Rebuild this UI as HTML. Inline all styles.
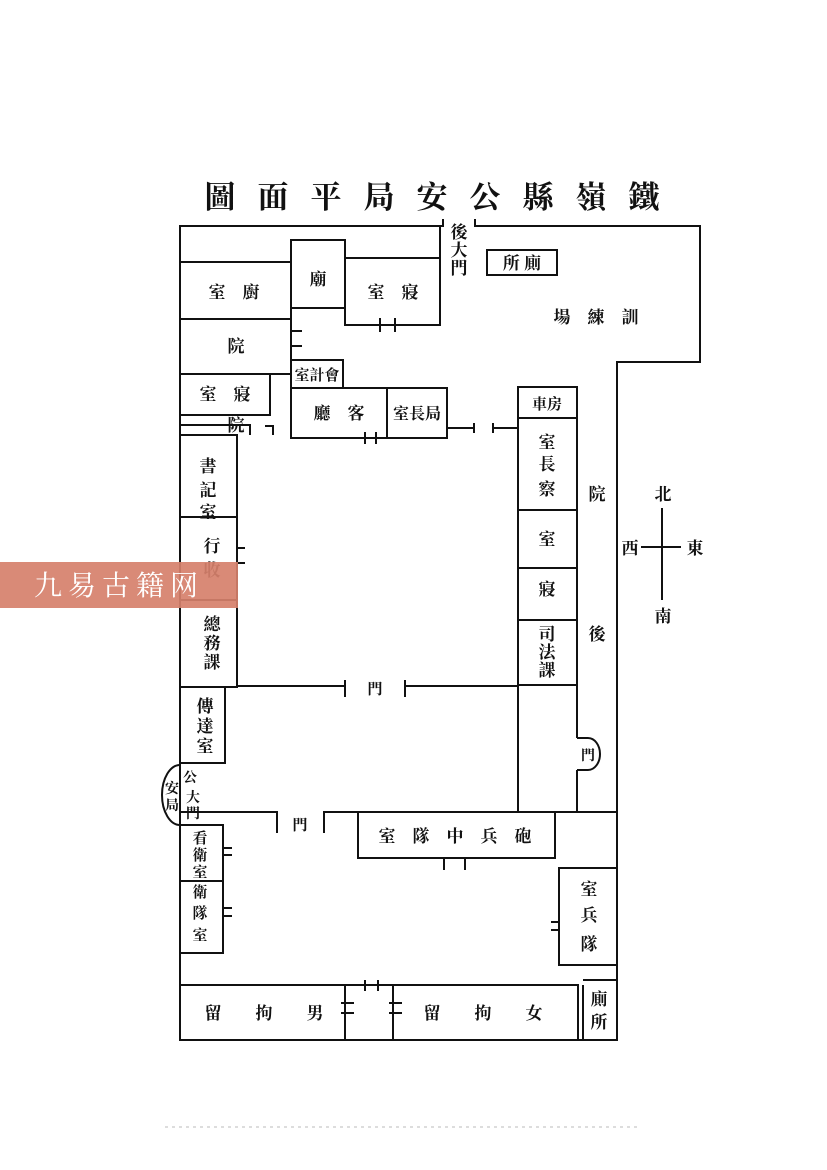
<!DOCTYPE html>
<html><head><meta charset="utf-8"><style>
html,body{margin:0;padding:0;background:#fff;}
svg{display:block;}
text{font-family:"Liberation Serif","Noto Serif CJK SC","Noto Sans CJK SC",serif;font-weight:bold;fill:#111;}
</style></head><body>
<svg width="827" height="1170" viewBox="0 0 827 1170" xmlns="http://www.w3.org/2000/svg">
<g stroke="#111" stroke-width="2" fill="none">
<!-- outer -->
<polyline points="443,219 443,226 180,226 180,1040 617,1040 617,362 700,362 700,226 475,226 475,219"/>
<!-- top-left rooms -->
<rect x="180" y="262" width="111" height="57"/>
<rect x="291" y="240" width="54" height="68"/>
<polyline points="345,258 440,258"/>
<polyline points="345,240 345,325 440,325 440,226"/>
<line x1="380" y1="318" x2="380" y2="332"/><line x1="395" y1="318" x2="395" y2="332"/>
<rect x="180" y="319" width="111" height="55"/>
<line x1="291" y1="308" x2="291" y2="388"/>
<line x1="291" y1="331" x2="302" y2="331"/><line x1="291" y1="346" x2="302" y2="346"/>
<rect x="291" y="360" width="52" height="28"/>
<rect x="180" y="374" width="90" height="41"/>
<polyline points="180,415 180,425 250,425 250,435"/>
<polyline points="265,426 273,426 273,435"/>
<rect x="291" y="388" width="96" height="50"/>
<rect x="387" y="388" width="60" height="50"/>
<line x1="365" y1="432" x2="365" y2="444"/><line x1="376" y1="432" x2="376" y2="444"/>
<polyline points="447,428 474,428"/><line x1="474" y1="423" x2="474" y2="433"/>
<polyline points="518,428 493,428"/><line x1="493" y1="423" x2="493" y2="433"/>
<rect x="487" y="250" width="70" height="25"/>
<!-- left column -->
<rect x="180" y="435" width="57" height="82"/>
<rect x="180" y="517" width="57" height="83"/>
<rect x="180" y="600" width="57" height="87"/>
<line x1="237" y1="548" x2="245" y2="548"/><line x1="237" y1="563" x2="245" y2="563"/>
<rect x="180" y="687" width="45" height="76"/>
<!-- middle horizontal -->
<polyline points="237,686 345,686"/><line x1="345" y1="680" x2="345" y2="697"/>
<polyline points="405,686 518,686"/><line x1="405" y1="680" x2="405" y2="697"/>
<!-- right column -->
<rect x="518" y="387" width="59" height="31"/>
<rect x="518" y="418" width="59" height="92"/>
<rect x="518" y="510" width="59" height="58"/>
<rect x="518" y="568" width="59" height="52"/>
<rect x="518" y="620" width="59" height="65"/>
<line x1="518" y1="685" x2="518" y2="812"/>
<line x1="577" y1="685" x2="577" y2="738"/>
<line x1="577" y1="770" x2="577" y2="812"/>
<path d="M577,738 L588,738 A12,16 0 0 1 588,770 L577,770"/>
<!-- gate -->
<path d="M180,765 A18,30 0 0 0 180,825"/>
<!-- lower -->
<polyline points="180,812 277,812 277,833"/>
<polyline points="324,833 324,812 617,812"/>
<rect x="358" y="812" width="197" height="46"/>
<line x1="444" y1="858" x2="444" y2="870"/><line x1="465" y1="858" x2="465" y2="870"/>
<rect x="180" y="825" width="43" height="56"/>
<rect x="180" y="881" width="43" height="72"/>
<line x1="223" y1="848" x2="232" y2="848"/><line x1="223" y1="855" x2="232" y2="855"/>
<line x1="223" y1="908" x2="232" y2="908"/><line x1="223" y1="916" x2="232" y2="916"/>
<rect x="559" y="868" width="58" height="97"/>
<line x1="551" y1="922" x2="559" y2="922"/><line x1="551" y1="930" x2="559" y2="930"/>
<rect x="180" y="985" width="398" height="55"/>
<line x1="345" y1="985" x2="345" y2="1040"/><line x1="393" y1="985" x2="393" y2="1040"/>
<line x1="365" y1="980" x2="365" y2="991"/><line x1="378" y1="980" x2="378" y2="991"/>
<line x1="341" y1="1003" x2="354" y2="1003"/><line x1="341" y1="1013" x2="354" y2="1013"/>
<line x1="389" y1="1003" x2="402" y2="1003"/><line x1="389" y1="1013" x2="402" y2="1013"/>
<line x1="583" y1="980" x2="617" y2="980"/><line x1="583" y1="985" x2="583" y2="1040"/>
<!-- compass -->
<line x1="662" y1="508" x2="662" y2="600"/><line x1="641" y1="547" x2="681" y2="547"/>
</g>
<g font-size="20" text-anchor="middle">
<text x="443" y="208" font-size="31" letter-spacing="22">圖面平局安公縣嶺鐵</text>
</g>
<g font-size="17" text-anchor="middle">
<text x="459" y="238">後</text><text x="459" y="256">大</text><text x="459" y="274">門</text>
<text x="522" y="269" font-weight="normal">所 廁</text>
<text x="234" y="298">室　廚</text>
<text x="318" y="285">廟</text>
<text x="393" y="298">室　寢</text>
<text x="596" y="323">場　練　訓</text>
<text x="236" y="352">院</text>
<text x="317" y="380" font-size="15">室計會</text>
<text x="225" y="400">室　寢</text>
<text x="236" y="431">院</text>
<text x="339" y="419">廳　客</text>
<text x="417" y="419" font-size="16">室長局</text>
<text x="547" y="409" font-size="15">車房</text>
<text x="208" y="472">書</text><text x="208" y="496">記</text><text x="208" y="518">室</text>
<text x="212" y="552">行</text><text x="212" y="576">收</text>
<text x="212" y="630">總</text><text x="212" y="649">務</text><text x="212" y="668">課</text>
<text x="547" y="448">室</text><text x="547" y="470">長</text><text x="547" y="495">察</text>
<text x="547" y="545">室</text>
<text x="547" y="595">寢</text>
<text x="547" y="640">司</text><text x="547" y="658">法</text><text x="547" y="676">課</text>
<text x="597" y="500">院</text>
<text x="597" y="640">後</text>
<text x="588" y="760" font-size="14">門</text>
<text x="375" y="694" font-size="15">門</text>
<text x="300" y="830" font-size="15">門</text>
<text x="205" y="712">傳</text><text x="205" y="732">達</text><text x="205" y="752">室</text>
<text x="172" y="793" font-size="14">安</text><text x="190" y="782" font-size="14">公</text>
<text x="172" y="810" font-size="14">局</text><text x="193" y="802" font-size="14">大</text><text x="193" y="818" font-size="14">門</text>
<text x="200" y="843" font-size="15">看</text><text x="200" y="860" font-size="15">衛</text><text x="200" y="877" font-size="15">室</text>
<text x="200" y="897" font-size="15">衛</text><text x="200" y="918" font-size="15">隊</text><text x="200" y="940" font-size="15">室</text>
<text x="455" y="842">室　隊　中　兵　砲</text>
<text x="589" y="895">室</text><text x="589" y="921">兵</text><text x="589" y="950">隊</text>
<text x="264" y="1019">留　　拘　　男</text>
<text x="483" y="1019">留　　拘　　女</text>
<text x="599" y="1005">廁</text><text x="599" y="1028">所</text>
<text x="663" y="500">北</text><text x="630" y="554">西</text><text x="695" y="554">東</text><text x="663" y="622">南</text>
</g>
<rect x="0" y="562" width="238" height="46" fill="#d6806b" opacity="0.92"/>
<text x="119" y="595" font-size="28" text-anchor="middle" style="fill:#fff;font-weight:normal" letter-spacing="6">九易古籍网</text>
<line x1="165" y1="1127" x2="640" y2="1127" stroke="#bbb" stroke-width="1" stroke-dasharray="3,4"/>
</svg>
</body></html>
